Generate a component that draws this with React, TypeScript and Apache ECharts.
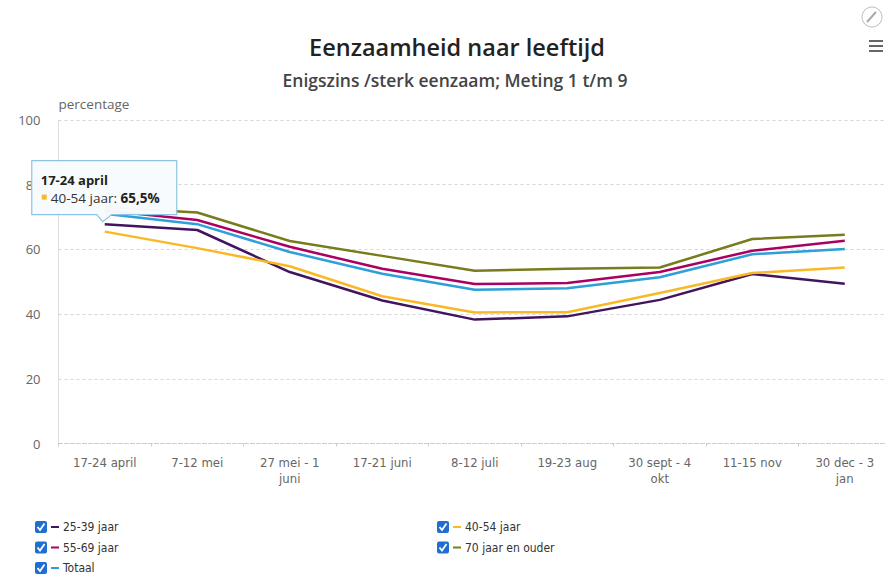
import React, { useEffect, useRef } from "react";
import * as echarts from "echarts";

const categories = [
  "17-24 april",
  "7-12 mei",
  "27 mei - 1\njuni",
  "17-21 juni",
  "8-12 juli",
  "19-23 aug",
  "30 sept - 4\nokt",
  "11-15 nov",
  "30 dec - 3\njan",
];
const seriesNames = ["25-39 jaar", "40-54 jaar", "55-69 jaar", "70 jaar en ouder", "Totaal"];
const seriesColors = ["#42145f", "#f9b826", "#a90061", "#777c1c", "#2e9fd8"];
const age25to39 = [67.8, 66.0, 53.0, 44.2, 38.3, 39.3, 44.4, 52.4, 49.4];
const age40to54 = [65.5, 60.4, 54.8, 45.5, 40.5, 40.6, 46.5, 52.7, 54.4];
const age55to69 = [72.0, 69.1, 60.8, 54.0, 49.3, 49.6, 53.0, 59.6, 62.7];
const age70plus = [73.0, 71.4, 62.6, 58.0, 53.4, 54.0, 54.4, 63.2, 64.5];
const totaal = [71.0, 67.8, 59.2, 52.5, 47.5, 48.0, 51.4, 58.5, 60.1];
const yMin = 0;
const yMax = 100;
const yInterval = 20;

const titleText = "Eenzaamheid naar leeftijd";
const subtitleText = "Enigszins /sterk eenzaam; Meting 1 t/m 9";
const yName = "percentage";
const tooltipCategoryIndex = 0;
const tooltipSeriesIndex = 1;

const allSeries = [age25to39, age40to54, age55to69, age70plus, totaal];
const narrow = "'DejaVu Sans Condensed', 'Liberation Sans Narrow', 'Lato', sans-serif";
const titleFont = "'Open Sans', 'Noto Sans', sans-serif";

function legendGraphics() {
  const items: any[] = [];
  seriesNames.forEach((name, i) => {
    const col = i % 2;
    const row = Math.floor(i / 2);
    const x = col === 0 ? 35 : 437;
    const y = 527 + row * 20.5;
    items.push({
      type: "rect",
      shape: { x, y: y - 6, width: 12, height: 12, r: 2 },
      style: { fill: "#1f6fd1" },
    });
    items.push({
      type: "polyline",
      shape: { points: [[x + 2.5, y], [x + 5, y + 3], [x + 9.5, y - 3.5]] },
      style: { stroke: "#fff", lineWidth: 1.8, fill: "none" },
    });
    items.push({
      type: "line",
      shape: { x1: x + 16, y1: y, x2: x + 24, y2: y },
      style: { stroke: seriesColors[i], lineWidth: 2 },
    });
    items.push({
      type: "text",
      x: x + 28,
      y,
      style: {
        text: name,
        fill: "#333",
        font: `12px ${narrow}`,
        verticalAlign: "middle",
        align: "left",
      },
    });
  });
  return items;
}

function iconGraphics() {
  return [
    {
      type: "circle",
      shape: { cx: 872, cy: 17, r: 10 },
      style: { stroke: "#bbb", fill: "#fff", lineWidth: 1 },
    },
    {
      type: "line",
      shape: { x1: 867, y1: 22, x2: 876, y2: 12 },
      style: { stroke: "#aaa", lineWidth: 2 },
    },
    ...[41, 46, 51].map((yy) => ({
      type: "line",
      shape: { x1: 869, y1: yy, x2: 883, y2: yy },
      style: { stroke: "#666", lineWidth: 2 },
    })),
  ];
}

function tooltipGraphics(px: number, py: number) {
  const tipY = py - 10;
  const boxBottom = tipY - 7;
  const boxH = 54;
  const boxTop = boxBottom - boxH;
  const boxLeft = px - 73;
  const boxW = 145;
  const val = allSeries[tooltipSeriesIndex][tooltipCategoryIndex];
  const valText = val.toFixed(1).replace(".", ",") + "%";
  return [
    {
      type: "polygon",
      shape: {
        points: [
          [boxLeft, boxTop],
          [boxLeft + boxW, boxTop],
          [boxLeft + boxW, boxBottom],
          [px + 7, boxBottom],
          [px - 2, tipY],
          [px - 8, boxBottom],
          [boxLeft, boxBottom],
        ],
      },
      style: { fill: "rgba(248,251,253,0.97)", stroke: "#8dc3e4", lineWidth: 1.2 },
      z: 100,
    },
    {
      type: "text",
      x: boxLeft + 9,
      y: boxTop + 19,
      z: 101,
      style: {
        text: categories[tooltipCategoryIndex],
        font: `bold 13px ${titleFont}`,
        fill: "#222",
        verticalAlign: "middle",
      },
    },
    {
      type: "rect",
      z: 101,
      shape: { x: boxLeft + 10, y: boxTop + 34, width: 5, height: 5 },
      style: { fill: seriesColors[tooltipSeriesIndex] },
    },
    {
      type: "text",
      x: boxLeft + 19,
      y: boxTop + 37,
      z: 101,
      style: {
        text: `{n|${seriesNames[tooltipSeriesIndex]}: }{v|${valText}}`,
        verticalAlign: "middle",
        rich: {
          n: { font: `13.5px ${titleFont}`, fill: "#333" },
          v: { font: `bold 13.5px ${titleFont}`, fill: "#222" },
        },
      },
    },
  ];
}

export default function App() {
  const ref = useRef<HTMLDivElement>(null);
  useEffect(() => {
    if (!ref.current) return;
    const chart = echarts.init(ref.current, undefined, { renderer: "svg" });
    const baseGraphics = [
      {
        type: "text",
        x: 457,
        y: 47,
        style: {
          text: titleText,
          font: `600 23.5px ${titleFont}`,
          fill: "#222",
          align: "center",
          verticalAlign: "middle",
        },
      },
      {
        type: "text",
        x: 455,
        y: 80,
        style: {
          text: subtitleText,
          font: `600 17.5px ${titleFont}`,
          fill: "#444",
          align: "center",
          verticalAlign: "middle",
        },
      },
      ...legendGraphics(),
      ...iconGraphics(),
    ];
    const option: any = {
      animation: false,
      backgroundColor: "#fff",
      grid: { left: 58.5, top: 120, width: 832.5, height: 323.5, containLabel: false },
      xAxis: {
        type: "category",
        data: categories,
        boundaryGap: true,
        axisLine: { show: true, lineStyle: { color: "#ccc", type: "dashed", width: 1 } },
        axisTick: { show: true, length: 3, lineStyle: { color: "#ccc" } },
        axisLabel: {
          color: "#666",
          fontFamily: narrow,
          fontSize: 13,
          margin: 11,
          lineHeight: 16,
          interval: 0,
        },
      },
      yAxis: {
        type: "value",
        min: yMin,
        max: yMax,
        interval: yInterval,
        name: yName,
        nameLocation: "end",
        nameGap: 9,
        nameTextStyle: { color: "#666", fontFamily: titleFont, fontSize: 13.5, align: "left" },
        axisLine: { show: true, lineStyle: { color: "#ddd", width: 1 } },
        axisTick: { show: false },
        axisLabel: { color: "#666", fontFamily: titleFont, fontSize: 13, margin: 18 },
        splitLine: { show: true, lineStyle: { color: "#d6d6d6", type: [3, 3] } },
      },
      series: allSeries.map((d, i) => ({
        name: seriesNames[i],
        type: "line",
        data: d,
        showSymbol: false,
        symbol: "none",
        lineStyle: { color: seriesColors[i], width: 2.5 },
        itemStyle: { color: seriesColors[i] },
      })),
      graphic: { elements: baseGraphics },
    };
    chart.setOption(option);
    const pt = chart.convertToPixel({ seriesIndex: tooltipSeriesIndex }, [
      tooltipCategoryIndex,
      allSeries[tooltipSeriesIndex][tooltipCategoryIndex],
    ]) as number[];
    chart.setOption({ graphic: { elements: [...baseGraphics, ...tooltipGraphics(pt[0], pt[1])] } }, { replaceMerge: ["graphic"] });
    return () => chart.dispose();
  }, []);
  return (
    <div style={{ position: "fixed", left: 0, top: 0, width: 885, height: 580, overflow: "hidden", background: "#fff" }}>
      <div ref={ref} style={{ width: 892, height: 580 }} />
    </div>
  );
}
